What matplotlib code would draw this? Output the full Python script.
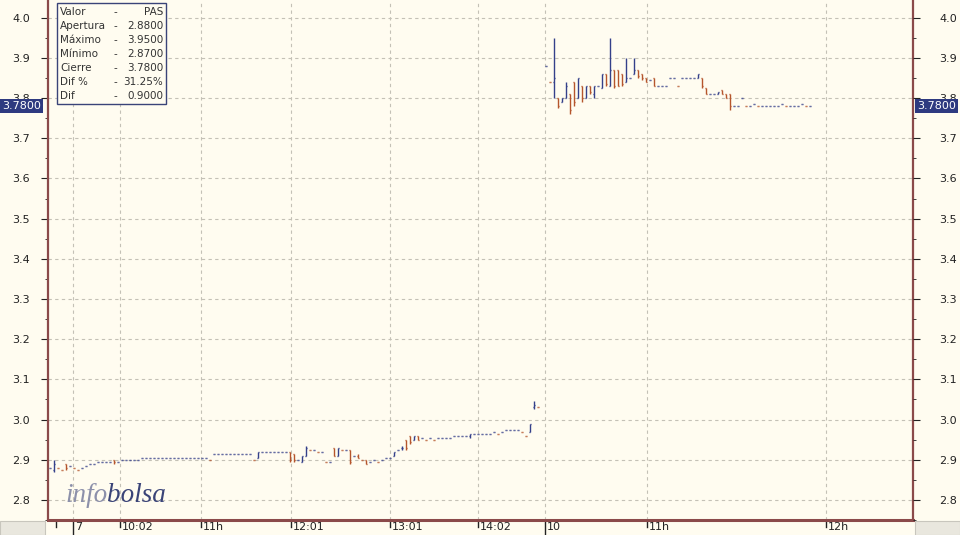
import numpy as np
import matplotlib
matplotlib.use("Agg")
import matplotlib.pyplot as plt
from matplotlib.patches import Rectangle
from matplotlib.transforms import blended_transform_factory

# intraday bars, one entry per bar: (open, high, low, close) or a single traded price
day1 = [
    2.88, (2.875, 2.90, 2.87, 2.89), 2.88, 2.875, (2.89, 2.89, 2.875, 2.88),
    2.885, 2.88, 2.875, 2.88, 2.885, 2.89, 2.89, 2.895, 2.895, 2.895, 2.895,
    (2.90, 2.90, 2.89, 2.895), 2.895,
    2.90, 2.90, 2.90, 2.90, 2.90,
    2.905, 2.905, 2.905, 2.905, 2.905, 2.905, 2.905, 2.905, 2.905, 2.905,
    2.905, 2.905, 2.905, 2.905, 2.905, 2.905, 2.905,
    2.90,
    2.915, 2.915, 2.915, 2.915, 2.915, 2.915, 2.915, 2.915, 2.915, 2.915,
    2.90, (2.905, 2.92, 2.905, 2.92),
    2.92, 2.92, 2.92, 2.92, 2.92, 2.92, 2.92,
    (2.92, 2.92, 2.895, 2.90), (2.915, 2.915, 2.895, 2.90), 2.90,
    (2.895, 2.91, 2.895, 2.91), (2.91, 2.935, 2.91, 2.93),
    2.925, 2.925, 2.92, 2.92, 2.895, 2.895,
    (2.93, 2.93, 2.91, 2.91), (2.91, 2.93, 2.91, 2.93), 2.925, 2.925,
    (2.925, 2.925, 2.89, 2.895), 2.91, (2.91, 2.915, 2.905, 2.905), 2.90,
    (2.90, 2.90, 2.89, 2.89),
    2.895, 2.90, 2.895, 2.90, 2.905, 2.905,
    (2.91, 2.92, 2.91, 2.92), 2.925, (2.93, 2.935, 2.925, 2.93),
    (2.95, 2.95, 2.925, 2.93), (2.96, 2.96, 2.94, 2.945),
    (2.95, 2.96, 2.95, 2.96), (2.96, 2.96, 2.95, 2.95),
    2.955, 2.95, 2.955, 2.95, 2.955, 2.955, 2.955, 2.955,
    2.96, 2.96, 2.96, 2.96, (2.96, 2.965, 2.955, 2.965),
    2.965, 2.965, 2.965, 2.965, 2.965, 2.97, 2.965, 2.97,
    2.975, 2.975, 2.975, 2.975, 2.97, 2.96,
    (2.97, 2.99, 2.97, 2.99), (3.03, 3.045, 3.025, 3.035), 3.03,
]

day2 = [
    3.88, 3.84, (3.84, 3.95, 3.80, 3.85), (3.80, 3.80, 3.775, 3.78),
    (3.79, 3.80, 3.79, 3.80), (3.80, 3.84, 3.80, 3.83), (3.81, 3.81, 3.76, 3.77),
    (3.84, 3.84, 3.78, 3.79), (3.80, 3.85, 3.80, 3.85), (3.83, 3.83, 3.79, 3.80),
    (3.80, 3.83, 3.80, 3.83), (3.83, 3.83, 3.81, 3.815), (3.81, 3.83, 3.80, 3.83),
    3.83, (3.825, 3.86, 3.825, 3.86), (3.86, 3.86, 3.83, 3.835),
    (3.83, 3.95, 3.83, 3.87), (3.87, 3.87, 3.825, 3.83), (3.87, 3.87, 3.83, 3.83),
    (3.86, 3.86, 3.83, 3.835), (3.84, 3.90, 3.84, 3.85), 3.85,
    (3.86, 3.90, 3.86, 3.87), (3.87, 3.87, 3.85, 3.855), (3.86, 3.86, 3.845, 3.85),
    (3.85, 3.85, 3.84, 3.84), 3.845, (3.85, 3.85, 3.83, 3.83),
    3.83, 3.83, 3.83, 3.85, 3.85, 3.83, 3.85, 3.85, 3.85, 3.85,
    (3.85, 3.86, 3.85, 3.86), (3.85, 3.85, 3.825, 3.83), (3.825, 3.825, 3.81, 3.81),
    3.81, 3.81, (3.81, 3.815, 3.81, 3.815), (3.82, 3.82, 3.81, 3.81),
    (3.81, 3.81, 3.80, 3.80), (3.81, 3.81, 3.77, 3.78),
    3.78, 3.78, 3.80, 3.78, 3.78, 3.785, 3.78, 3.78, 3.78, 3.78,
    3.78, 3.78, 3.785, 3.78, 3.78, 3.78, 3.78, 3.785, 3.78, 3.78,
]
day2_start = 124

tick_pos = [1.5, 5.75, 17.5, 37.75, 60.25, 85, 107, 123.75, 149.25, 194]
tick_lbl = ["", "7", "10:02", "11h", "12:01", "13:01", "14:02", "10", "11h", "12h"]
day_ticks = ["7", "10"]

info_rows = [("Valor", "PAS"), ("Apertura", "2.8800"), ("Máximo", "3.9500"),
             ("Mínimo", "2.8700"), ("Cierre", "3.7800"), ("Dif %", "31.25%"),
             ("Dif", "0.9000")]
last_close = 3.78

BG = "#fffcf0"
UP = "#34408a"
DOWN = "#b5552c"
AXIS = "#8b4a4a"
GRID = "#c4c1b6"


def expand(bars):
    out = []
    for b in bars:
        out.append(b if isinstance(b, tuple) else (b, b, b, b))
    return np.array(out)


ohlc = np.vstack([expand(day1), expand(day2)])
xs = np.concatenate([np.arange(len(day1)), day2_start + np.arange(len(day2))])
o, h, l, c = ohlc.T
prev = np.concatenate([[c[0]], c[:-1]])
down = (c < o) | ((c == o) & (c < prev))
cols = np.where(down, DOWN, UP)

fig = plt.figure(figsize=(9.6, 5.35), dpi=100)
fig.patch.set_facecolor(BG)
ax = fig.add_axes([48 / 960, 15 / 535, 865 / 960, 520 / 535])
ax.set_facecolor(BG)

w = 0.33
ax.vlines(xs, l, h, colors=cols, lw=1.0)
ax.hlines(o, xs - w, xs, colors=cols, lw=1.0)
ax.hlines(c, xs, xs + w, colors=cols, lw=1.0)

ax.set_xlim(-0.5, 215.75)
ax.set_ylim(2.766, 4.044)

# grid
ax.set_yticks(np.arange(2.8, 4.01, 0.1))
ax.set_yticks(np.arange(2.75, 4.05, 0.05), minor=True)
ax.grid(axis="y", which="major", color=GRID, linestyle=(0, (3, 3)), lw=0.8)
for p, t in zip(tick_pos, tick_lbl):
    if t:
        ax.axvline(p, color=GRID, linestyle=(0, (3, 3)), lw=0.8, zorder=0)
ax.set_axisbelow(True)

for s in ["left", "right", "bottom"]:
    ax.spines[s].set_color(AXIS)
    ax.spines[s].set_linewidth(1.6)
ax.spines["bottom"].set_linewidth(2.2)
ax.spines["top"].set_visible(False)

ax.tick_params(axis="y", which="major", direction="out", length=5, color="#222222",
               labelsize=8, labelcolor="#222222", pad=8)
ax.tick_params(axis="y", which="minor", direction="out", length=2.5, color="#222222")
ax.yaxis.set_major_formatter(matplotlib.ticker.FormatStrFormatter("%.1f"))

ax2 = ax.twinx()
ax2.set_ylim(ax.get_ylim())
ax2.set_yticks(ax.get_yticks())
ax2.set_yticks(np.arange(2.75, 4.05, 0.05), minor=True)
ax2.yaxis.set_major_formatter(matplotlib.ticker.FormatStrFormatter("%.1f"))
ax2.tick_params(axis="y", which="major", direction="out", length=5, color="#222222",
                labelsize=8, labelcolor="#222222", pad=14)
ax2.tick_params(axis="y", which="minor", direction="out", length=2.5, color="#222222")
for s in ax2.spines.values():
    s.set_visible(False)

# x ticks drawn by hand, labels right of the tick
ax.set_xticks([])
tr = blended_transform_factory(ax.transData, ax.transAxes)
for p, t in zip(tick_pos, tick_lbl):
    depth = -0.03 if t in day_ticks else -0.014
    ax.plot([p, p], [0, depth], color="#222222", lw=1.0, transform=tr, clip_on=False)
    if t:
        ax.text(p + 0.5, -0.004, t, transform=tr, ha="left", va="top",
                fontsize=8, color="#222222")

# grey corners under the axes
fig.add_artist(Rectangle((0, 0), 45 / 960, 14 / 535, transform=fig.transFigure,
                         facecolor="#e9e7de", edgecolor="#c8c6bd", lw=0.8))
fig.add_artist(Rectangle((915 / 960, 0), 45 / 960, 14 / 535, transform=fig.transFigure,
                         facecolor="#e9e7de", edgecolor="#c8c6bd", lw=0.8))

# info box
fig.add_artist(Rectangle((57 / 960, 1 - 104 / 535), 109 / 960, 101 / 535,
                         transform=fig.transFigure, facecolor=BG,
                         edgecolor="#3a4478", lw=1.0, zorder=5))
for k, (name, val) in enumerate(info_rows):
    yy = 1 - (12 + 14 * k) / 535
    fig.text(60 / 960, yy, name, fontsize=7.5, color="#333333", va="center", zorder=6)
    fig.text(114 / 960, yy, "-", fontsize=7.5, color="#333333", va="center", zorder=6)
    fig.text(163 / 960, yy, val, fontsize=7.5, color="#333333", va="center",
             ha="right", zorder=6)

# last price tags
yl = ax.transData.transform((0, last_close))[1]
yf = fig.transFigure.inverted().transform((0, yl))[1]
box = dict(facecolor="#2e3a80", edgecolor="none", pad=1.5)
fig.text(2 / 960, yf, f"{last_close:.4f}", fontsize=8, color="white", va="center",
         ha="left", bbox=box, zorder=7)
fig.text(917 / 960, yf, f"{last_close:.4f}", fontsize=8, color="white", va="center",
         ha="left", bbox=box, zorder=7)

# watermark
t1 = fig.text(65 / 960, 1 - 502 / 535, "info", fontsize=19.5, family="Liberation Serif",
              style="italic", color="#8c90aa", zorder=4)
r = fig.canvas.get_renderer()
bb = t1.get_window_extent(r)
fig.text(bb.x1 / 960, 1 - 502 / 535, "bolsa", fontsize=19.5, family="Liberation Serif",
         style="italic", color="#3a4478", zorder=4)

fig.savefig("out.png", dpi=100, facecolor=BG)
